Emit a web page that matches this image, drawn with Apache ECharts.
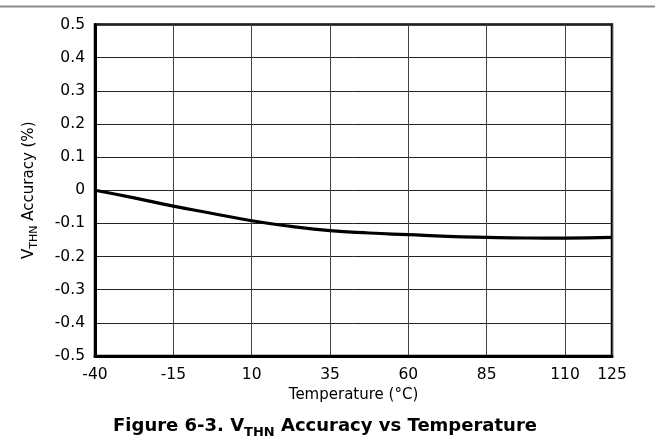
<!DOCTYPE html>
<html>
<head>
<meta charset="utf-8">
<script src="https://cdn.jsdelivr.net/npm/echarts@6/dist/echarts.min.js"></script>
<style>
html,body{margin:0;padding:0;background:#fff;}
#c{width:655px;height:443px;}
</style>
</head>
<body>
<div id="c"></div>
<script>
// Data
const temperature = [-40, -27.5, -15, -2.5, 10, 22.5, 35, 47.5, 60, 72.5, 85, 97.5, 110, 125];
const accuracy = [0, -0.023, -0.048, -0.07, -0.092, -0.109, -0.122, -0.129, -0.134, -0.139, -0.142, -0.144, -0.1445, -0.142];
const xTicks = [-40, -15, 10, 35, 60, 85, 110, 125];
const yMin = -0.5, yMax = 0.5, yStep = 0.1;

const points = temperature.map((t, i) => [t, accuracy[i]]);
const font = '"DejaVu Sans", sans-serif';

const chart = echarts.init(document.getElementById('c'), null, {renderer: 'canvas'});
chart.setOption({
  animation: false,
  backgroundColor: '#fff',
  textStyle: {fontFamily: font},
  graphic: [{
    type: 'line',
    shape: {x1: 0, y1: 6.5, x2: 655, y2: 6.5},
    style: {stroke: '#8c8c8c', lineWidth: 2}
  }],
  title: {
    text: '{b|Figure 6-3. V}{s|THN}{b| Accuracy vs Temperature}',
    left: 320,
    textAlign: 'center',
    top: 408,
    textStyle: {
      rich: {
        b: {fontFamily: font, fontWeight: 'bold', fontSize: 18, color: '#000', verticalAlign: 'bottom', lineHeight: 22},
        s: {fontFamily: font, fontWeight: 'bold', fontSize: 13, color: '#000', verticalAlign: 'bottom', lineHeight: 16, padding: [0, 0, -4, 0]}
      }
    }
  },
  grid: {
    left: 95, top: 24.5, right: 43, bottom: 87,
    show: true, borderColor: '#000', borderWidth: 2.5, backgroundColor: 'transparent'
  },
  xAxis: {
    type: 'value',
    min: -40, max: 125,
    name: 'Temperature (°C)',
    nameLocation: 'middle',
    nameGap: 28,
    nameTextStyle: {fontFamily: font, fontSize: 15, color: '#000'},
    axisLine: {show: true, onZero: false, lineStyle: {color: '#000', width: 3}},
    axisTick: {show: false, customValues: xTicks},
    axisLabel: {customValues: xTicks, fontFamily: font, fontSize: 15.5, color: '#000', margin: 11},
    splitLine: {show: true, lineStyle: {color: '#444', width: 1}}
  },
  yAxis: {
    type: 'value',
    min: yMin, max: yMax, interval: yStep,
    name: '{v|V}{s|THN}{v| Accuracy (%)}',
    nameLocation: 'middle',
    nameGap: 58,
    nameTextStyle: {
      rich: {
        v: {fontFamily: font, fontSize: 15, color: '#000', verticalAlign: 'bottom', lineHeight: 18},
        s: {fontFamily: font, fontSize: 11, color: '#000', verticalAlign: 'bottom', lineHeight: 13, padding: [0, 0, -3, 0]}
      }
    },
    axisLine: {show: true, onZero: false, lineStyle: {color: '#000', width: 3}},
    axisTick: {show: false},
    axisLabel: {
      fontFamily: font, fontSize: 15.5, color: '#000', margin: 10,
      formatter: v => String(Math.round(v * 10) / 10)
    },
    splitLine: {show: true, lineStyle: {color: '#222', width: 1}}
  },
  series: [{
    type: 'line',
    data: points,
    smooth: true,
    showSymbol: false,
    lineStyle: {color: '#000', width: 3.2},
    z: 5
  }]
});
</script>
</body>
</html>
